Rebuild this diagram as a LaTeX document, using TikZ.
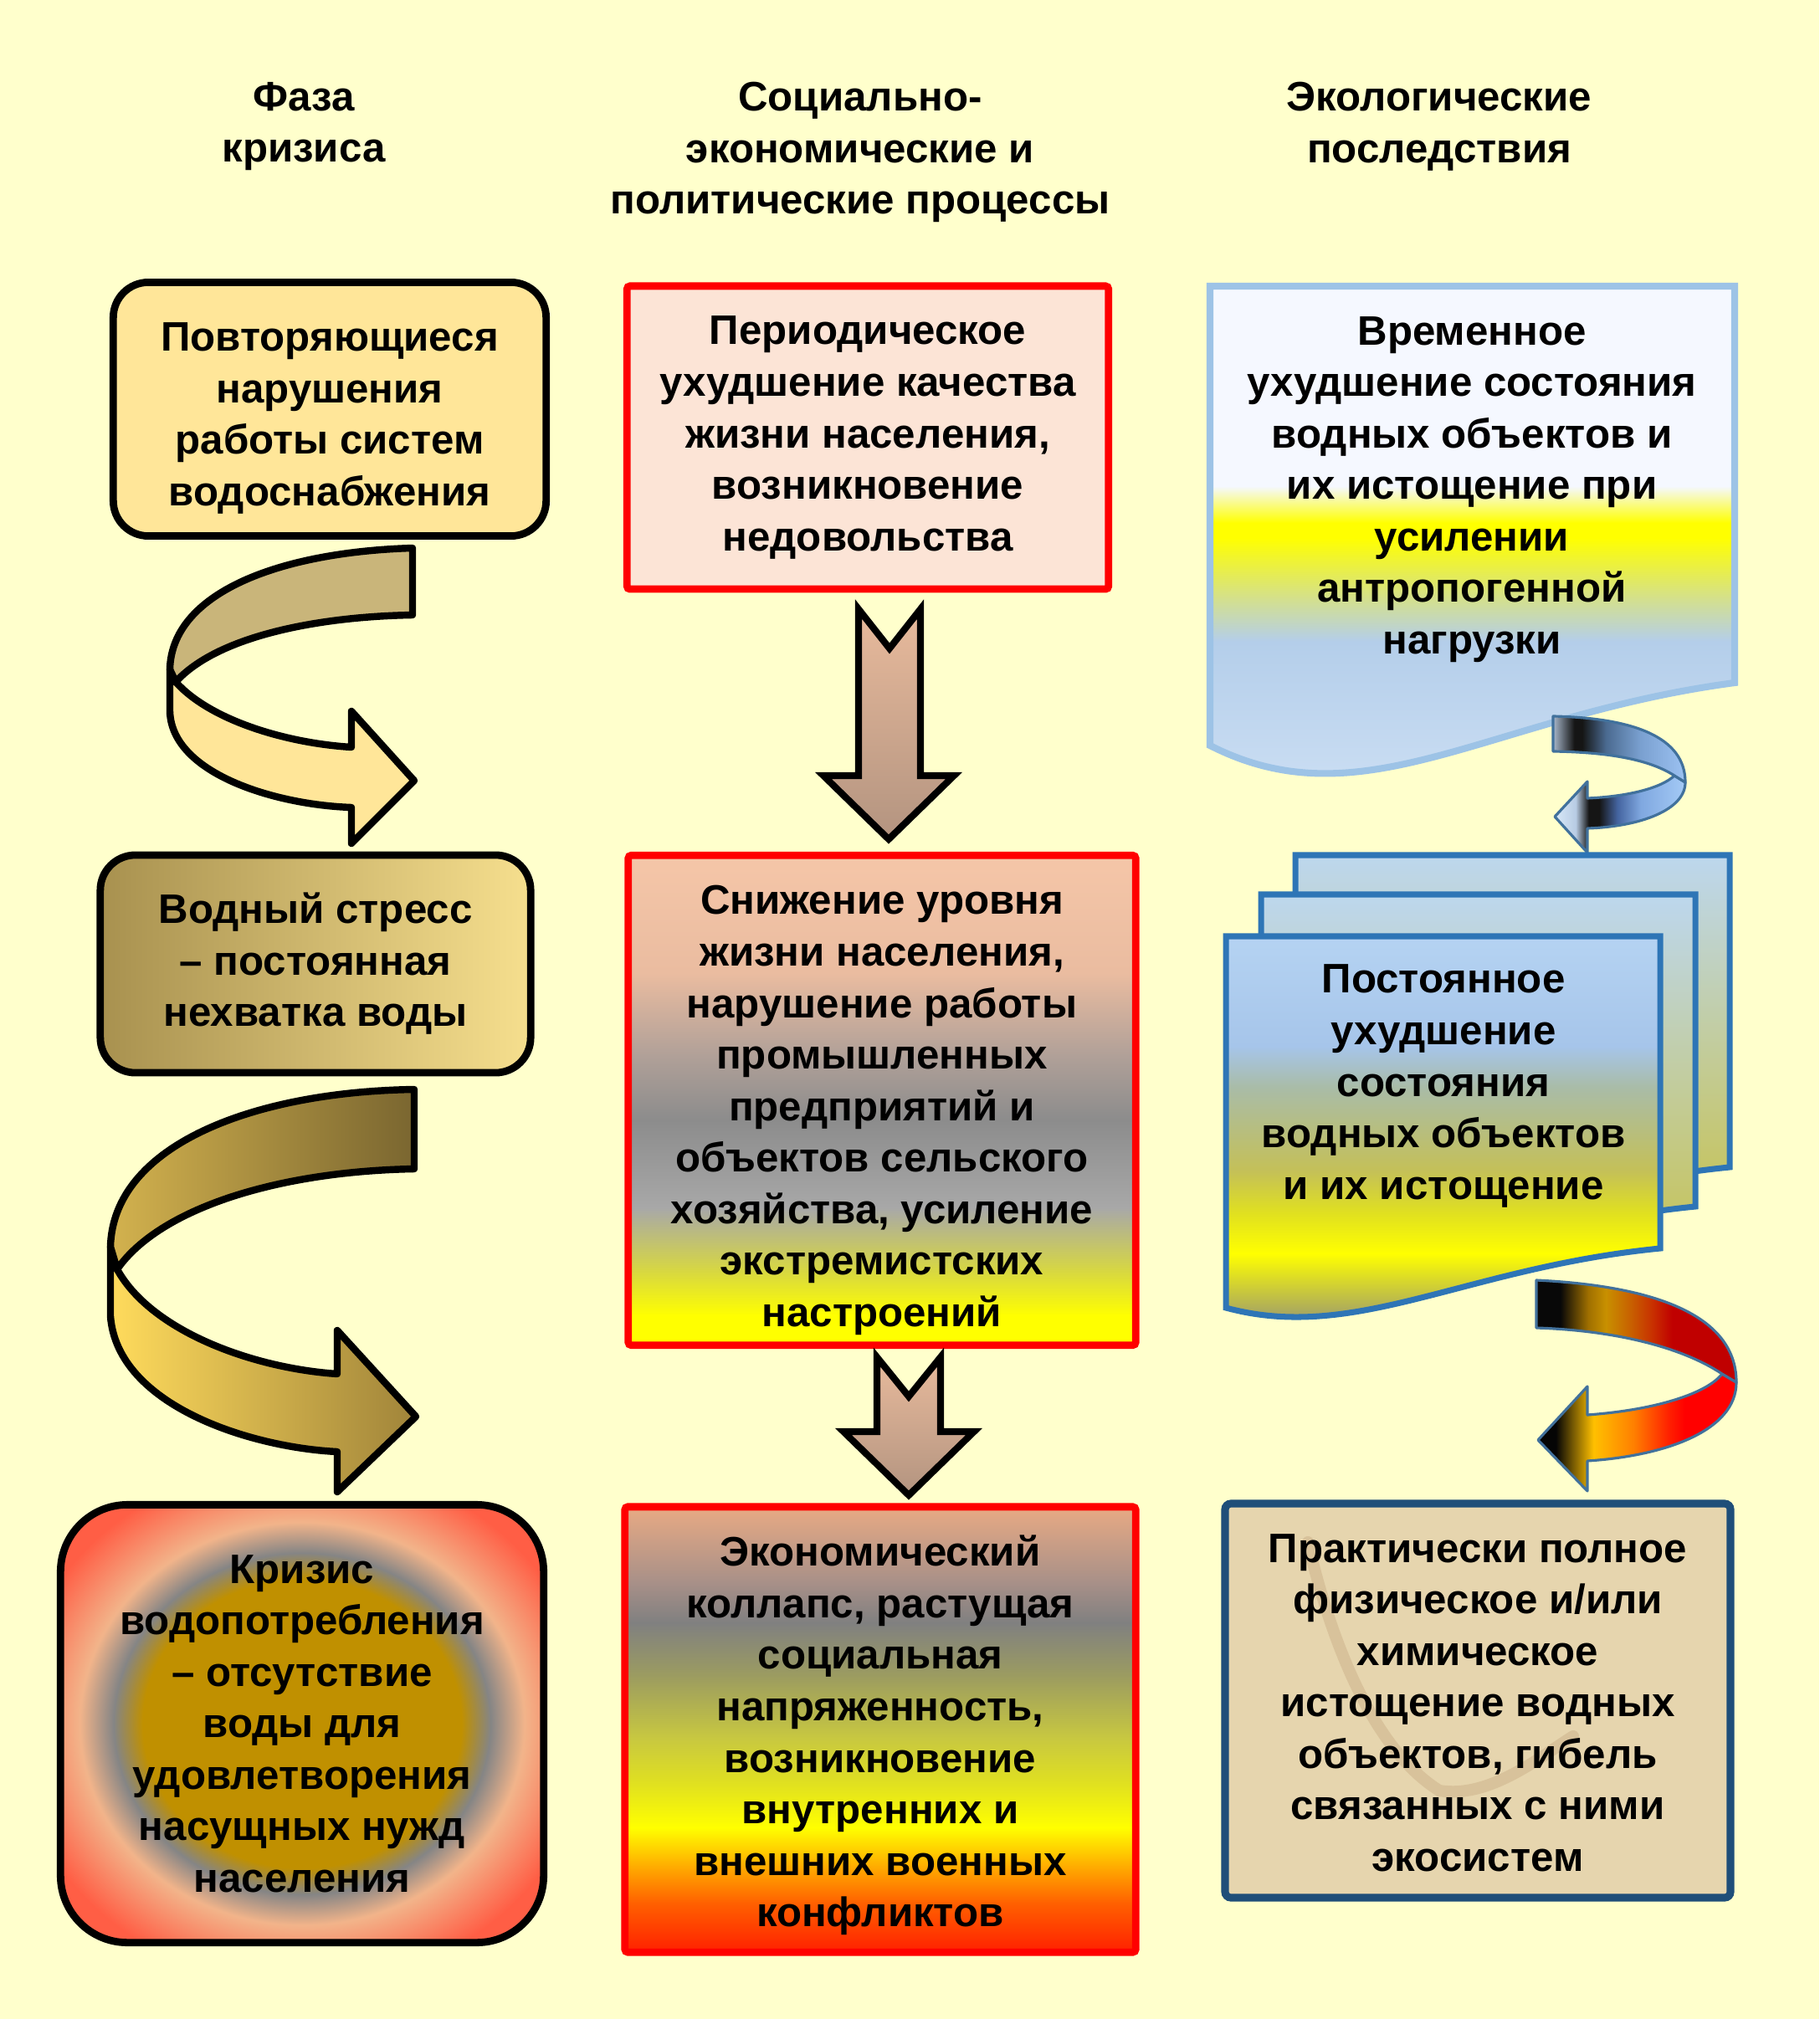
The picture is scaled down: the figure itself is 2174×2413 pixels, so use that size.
\documentclass[tikz,border=0pt]{standalone}
\usepackage{fontspec}
\setmainfont{Liberation Sans}
\usepackage{tikz}
\usetikzlibrary{calc,positioning}

\definecolor{bgyellow}{HTML}{FFFFCC}
\definecolor{phaseA}{HTML}{FFE699}
\definecolor{arrAup}{HTML}{C9B57A}
\definecolor{phaseBl}{HTML}{A8914F}
\definecolor{phaseBr}{HTML}{F6DF8E}
\definecolor{arrBupl}{HTML}{D3B24E}
\definecolor{arrBupr}{HTML}{7A6630}
\definecolor{arrBlol}{HTML}{FFDB5C}
\definecolor{arrBlor}{HTML}{A0843A}
\definecolor{cgold}{HTML}{C09000}
\definecolor{cgrey}{HTML}{858585}
\definecolor{cpeach}{HTML}{F2B48A}
\definecolor{cred}{HTML}{FF5E45}
\definecolor{socfill}{HTML}{FCE4D6}
\definecolor{dntop}{HTML}{E8BA9C}
\definecolor{dnbot}{HTML}{B39480}
\definecolor{docline}{HTML}{9DC3E6}
\definecolor{stackline}{HTML}{2E75B6}
\definecolor{smallline}{HTML}{41719C}
\definecolor{ecodark}{HTML}{1F4E79}
\definecolor{sand}{HTML}{E6D5AE}
\definecolor{streak}{HTML}{A88058}
% fills of the middle column
\definecolor{e1}{HTML}{F5C6A8}\definecolor{e2}{HTML}{EABCA0}\definecolor{e3}{HTML}{B0A098}
\definecolor{e4}{HTML}{8C8C8C}\definecolor{e5}{HTML}{A8A8A8}\definecolor{e6}{HTML}{D8D840}
\definecolor{e7}{HTML}{FFFF00}
\definecolor{f1}{HTML}{E8AA84}\definecolor{f2}{HTML}{A89088}\definecolor{f3}{HTML}{808080}
\definecolor{f4}{HTML}{9C9C60}\definecolor{f5}{HTML}{C8C840}\definecolor{f6}{HTML}{E0E020}
\definecolor{f7}{HTML}{FFFF00}\definecolor{f8}{HTML}{FFA000}\definecolor{f9}{HTML}{FF6000}
\definecolor{f10}{HTML}{FF2000}
% fills of the right column
\definecolor{t1}{HTML}{F5F8FF}\definecolor{t2}{HTML}{FFFF00}\definecolor{t3}{HTML}{D4E08C}
\definecolor{t4}{HTML}{B4CEEA}\definecolor{t5}{HTML}{C8DCF2}
\definecolor{s1}{HTML}{B5D3F2}\definecolor{s2}{HTML}{A6C5EA}\definecolor{s3}{HTML}{A9BCA8}
\definecolor{s4}{HTML}{C4C058}\definecolor{s5}{HTML}{E0E020}\definecolor{s6}{HTML}{FFFF00}
\definecolor{s7}{HTML}{9A9870}
\definecolor{sbtop}{HTML}{BDD7EE}\definecolor{sbbot}{HTML}{C8C040}
\definecolor{b1}{HTML}{A8B8CC}\definecolor{b2}{HTML}{151515}\definecolor{b3}{HTML}{4A6A90}
\definecolor{b4}{HTML}{7AA0D0}\definecolor{b5}{HTML}{9CC2F2}
\definecolor{c1}{HTML}{D8E8F8}\definecolor{c2}{HTML}{B8CCE4}\definecolor{c3}{HTML}{4464A0}
\definecolor{c4}{HTML}{80A8E0}\definecolor{c5}{HTML}{A4CAF6}
\definecolor{r1}{HTML}{080808}\definecolor{r2}{HTML}{A07000}\definecolor{r3}{HTML}{C89000}
\definecolor{r4}{HTML}{C86000}\definecolor{r5}{HTML}{C83000}\definecolor{r6}{HTML}{C00000}
\definecolor{q1}{HTML}{050505}\definecolor{q2}{HTML}{FFC000}\definecolor{q3}{HTML}{FF8000}
\definecolor{q4}{HTML}{FF2000}\definecolor{q5}{HTML}{FF0000}

\pgfdeclareradialshading{crisisglow}{\pgfpoint{0bp}{0bp}}{color(0bp)=(cgold); color(16.5bp)=(cgold); color(19.5bp)=(cgrey); color(23bp)=(cpeach); color(30bp)=(cred); color(50bp)=(cred)}
\pgfdeclareverticalshading{lifefall}{100bp}{color(0bp)=(e7); color(28bp)=(e7); color(32.5bp)=(e6); color(39bp)=(e5); color(48bp)=(e4); color(54.5bp)=(e3); color(63bp)=(e2); color(75bp)=(e1); color(100bp)=(e1)}
\pgfdeclareverticalshading{warfall}{100bp}{color(0bp)=(f10); color(25bp)=(f10); color(30.5bp)=(f9); color(34bp)=(f8); color(39bp)=(f7); color(44bp)=(f6); color(49bp)=(f5); color(56bp)=(f4); color(62bp)=(f3); color(66.5bp)=(f2); color(75bp)=(f1); color(100bp)=(f1)}
\pgfdeclareverticalshading{tempfill}{100bp}{color(0bp)=(t5); color(30bp)=(t5); color(42bp)=(t4); color(46bp)=(t3); color(51.6bp)=(t2); color(53bp)=(t2); color(56.4bp)=(t1); color(100bp)=(t1)}
\pgfdeclareverticalshading{stackfill}{100bp}{color(0bp)=(s7); color(27.4bp)=(s7); color(36bp)=(s6); color(41bp)=(s5); color(46.2bp)=(s4); color(56.5bp)=(s3); color(61.5bp)=(s2); color(75bp)=(s1); color(100bp)=(s1)}
\pgfdeclarehorizontalshading{bluetop}{100bp}{color(0bp)=(b1); color(25bp)=(b1); color(33bp)=(b2); color(36bp)=(b2); color(45bp)=(b3); color(58bp)=(b4); color(75bp)=(b5); color(100bp)=(b5)}
\pgfdeclarehorizontalshading{bluelow}{100bp}{color(0bp)=(c1); color(25bp)=(c1); color(33bp)=(c2); color(38bp)=(b2); color(42bp)=(b2); color(49bp)=(c3); color(58bp)=(c4); color(75bp)=(c5); color(100bp)=(c5)}
\pgfdeclarehorizontalshading{redtop}{100bp}{color(0bp)=(r1); color(31bp)=(r1); color(38bp)=(r2); color(42.4bp)=(r3); color(48.6bp)=(r4); color(54bp)=(r5); color(59bp)=(r6); color(100bp)=(r6)}
\pgfdeclarehorizontalshading{redlow}{100bp}{color(0bp)=(q1); color(29.5bp)=(q1); color(39bp)=(q2); color(49bp)=(q3); color(58bp)=(q4); color(62bp)=(q5); color(100bp)=(q5)}

\begin{document}
\begin{tikzpicture}[x=0.01cm,y=-0.01cm,
	txt/.style={font=\bfseries\fontsize{14}{17.5}\selectfont,align=center,inner sep=0pt},
	phasebox/.style={txt,draw=black,line width=2.5pt,rounded corners=0.42cm},
	socbox/.style={txt,draw=red,line width=2.5pt,rounded corners=1pt},
	bigarrow/.style={draw=black,line width=2.4pt,line join=round},
	downarrow/.style={draw=black,line width=2.3pt,line join=miter,top color=dntop,bottom color=dnbot},
	smallarrow/.style={draw=smallline,line width=0.9pt,line join=round}]

	\fill[bgyellow] (0,0) rectangle (2174,2413);

	% column heads
	\node[txt] (hphase) at (363,151) {Фаза\\кризиса};
	\node[txt] (hsoc)   at (1028,182) {Социально-\\экономические и\\политические процессы};
	\node[txt] (heco)   at (1720,151) {Экологические\\последствия};

	% crisis phases
	\node[phasebox,fill=phaseA,minimum width=5.17cm,minimum height=3.03cm,
		label={[txt,yshift=-0.11cm]center:{Повторяющиеся\\нарушения\\работы систем\\водоснабжения}}] (phase1) at (394,489) {};
	\node[phasebox,left color=phaseBl,right color=phaseBr,minimum width=5.14cm,minimum height=2.6cm] (phase2) at (377,1152)
		{Водный стресс\\– постоянная\\нехватка воды};
	\node[phasebox,shade,shading=crisisglow,rounded corners=0.8cm,minimum width=5.77cm,minimum height=5.23cm] (phase3) at (361,2060)
		{Кризис\\водопотребления\\– отсутствие\\воды для\\удовлетворения\\насущных нужд\\населения};

	\draw[bigarrow,fill=phaseA] (203,800) -- (203,850) .. controls (205,925) and (330,962) .. (420,965) -- (420,1008) -- (495,933)
		-- (420,850) -- (420,893) .. controls (340,888) and (250,860) .. (210,815) -- cycle;
	\draw[bigarrow,fill=arrAup] (493,655) .. controls (330,660) and (205,710) .. (203,800) -- (210,815)
		.. controls (260,760) and (380,737) .. (493,735) -- cycle;

	\draw[bigarrow,left color=arrBlol,right color=arrBlor] (132,1490) -- (132,1573) .. controls (140,1680) and (300,1730) .. (403,1735)
		-- (403,1783) -- (497,1693) -- (403,1590) -- (403,1642) .. controls (300,1635) and (180,1590) .. (140,1517) -- cycle;
	\draw[bigarrow,left color=arrBupl,right color=arrBupr] (495,1302) .. controls (300,1305) and (135,1370) .. (132,1490) -- (140,1517)
		.. controls (190,1445) and (330,1400) .. (495,1397) -- cycle;

	% social and political processes
	\node[socbox,fill=socfill,minimum width=5.75cm,minimum height=3.62cm] (soc1) at (1037,523)
		{Периодическое\\ухудшение качества\\жизни населения,\\возникновение\\недовольства};
	\node[socbox,shade,shading=lifefall,minimum width=6.06cm,minimum height=5.85cm,
		label={[txt,yshift=-0.12cm]center:{Снижение уровня\\жизни населения,\\нарушение работы\\промышленных\\предприятий и\\объектов сельского\\хозяйства, усиление\\экстремистских\\настроений}}] (soc2) at (1054,1315) {};
	\node[socbox,shade,shading=warfall,minimum width=6.1cm,minimum height=5.32cm,
		label={[txt,yshift=-0.07cm]center:{Экономический\\коллапс, растущая\\социальная\\напряженность,\\возникновение\\внутренних и\\внешних военных\\конфликтов}}] (soc3) at (1052,2067) {};

	\draw[downarrow] (1026,728) -- (1063,775) -- (1100,728) -- (1100,927) -- (1140,927) -- (1062,1003) -- (984,927) -- (1026,927) -- cycle;
	\draw[downarrow] (1048,1622) -- (1086,1669) -- (1124,1622) -- (1124,1711) -- (1164,1711) -- (1086,1787) -- (1008,1711) -- (1048,1711) -- cycle;

	% ecological consequences
	\draw[draw=docline,line width=2.3pt,shade,shading=tempfill] (1446,342) -- (2073,342) -- (2073,816)
		.. controls (1780,855) and (1630,985) .. (1446,891) -- cycle;
	\node[txt] (eco1) at (1759,585)
		{Временное\\ухудшение состояния\\водных объектов и\\их истощение при\\усилении\\антропогенной\\нагрузки};

	\shadedraw[smallarrow,shading=bluelow] (2001,927) -- (2014,935) .. controls (2014,968) and (1960,988) .. (1897,990) -- (1897,1019)
		-- (1858,976) -- (1897,934) -- (1897,954) .. controls (1945,952) and (1985,942) .. (2001,927) -- cycle;
	\shadedraw[smallarrow,shading=bluetop] (1856,856) .. controls (1950,858) and (2014,880) .. (2014,935) -- (2001,927)
		.. controls (1970,907) and (1920,899) .. (1856,898) -- cycle;

	\foreach \dx/\dy in {83/-97,42/-50}
		\draw[shift={(\dx,\dy)},draw=stackline,line width=2pt,top color=sbtop,bottom color=sbbot] (1465,1119) -- (1984,1119) -- (1984,1492)
			.. controls (1750,1515) and (1620,1605) .. (1465,1563) -- cycle;
	\draw[draw=stackline,line width=2pt,shade,shading=stackfill] (1465,1119) -- (1984,1119) -- (1984,1492)
		.. controls (1750,1515) and (1620,1605) .. (1465,1563) -- cycle;
	\node[txt] (eco2) at (1725,1298)
		{Постоянное\\ухудшение\\состояния\\водных объектов\\и их истощение};

	\shadedraw[smallarrow,shading=redlow] (2058,1642) -- (2075,1652) .. controls (2075,1710) and (1990,1740) .. (1897,1746) -- (1897,1782)
		-- (1838,1721) -- (1897,1657) -- (1897,1691) .. controls (1980,1685) and (2040,1665) .. (2058,1642) -- cycle;
	\shadedraw[smallarrow,shading=redtop] (1836,1530) .. controls (1960,1536) and (2075,1565) .. (2075,1652) -- (2058,1642)
		.. controls (2010,1610) and (1930,1590) .. (1836,1587) -- cycle;

	\draw[draw=ecodark,line width=2.6pt,fill=sand,rounded corners=2pt] (1464,1797) rectangle (2068,2268);
	\draw[streak,opacity=0.22,line width=4pt,line cap=round] (1563,1843) .. controls (1590,1960) and (1640,2090) .. (1720,2140)
		.. controls (1780,2150) and (1840,2100) .. (1880,2075);
	\node[txt] (eco3) at (1766,2035)
		{Практически полное\\физическое и/или\\химическое\\истощение водных\\объектов, гибель\\связанных с ними\\экосистем};
\end{tikzpicture}
\end{document}
